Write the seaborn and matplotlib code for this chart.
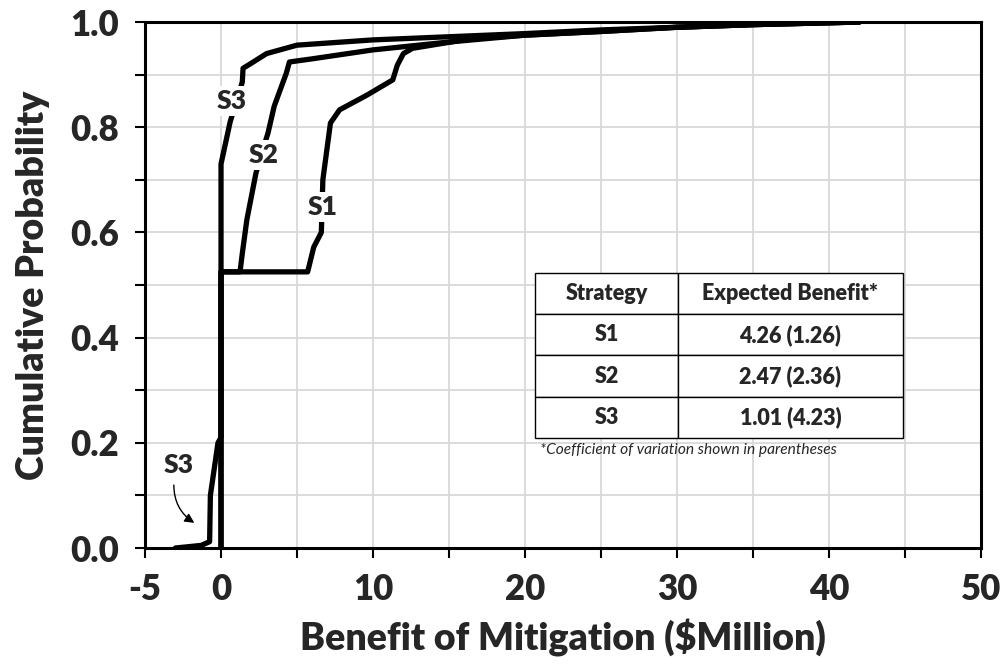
import numpy as np
import pandas as pd
import matplotlib
matplotlib.use("Agg")
import matplotlib.pyplot as plt
import seaborn as sns

# ---- data ----
s1_x = [0, 0, 5.7, 6.1, 6.6, 6.7, 7.2, 7.8, 9.6, 11.3, 11.6, 12.0, 12.6, 16.4, 20, 25, 30, 35, 42]
s1_p = [0, 0.525, 0.525, 0.572, 0.60, 0.70, 0.808, 0.833, 0.861, 0.89, 0.918, 0.94, 0.95, 0.968, 0.975, 0.982, 0.99, 0.995, 1.0]

s2_x = [0, 0, 1.25, 1.4, 1.7, 2.3, 3.1, 3.5, 4.3, 4.5, 6.0, 10, 15, 20, 25, 30, 35, 42]
s2_p = [0, 0.525, 0.525, 0.56, 0.624, 0.713, 0.79, 0.84, 0.903, 0.924, 0.93, 0.947, 0.962, 0.975, 0.982, 0.99, 0.995, 1.0]

s3_x = [-3.0, -1.3, -0.75, -0.7, -0.2, 0, 0, 0.6, 1.4, 1.45, 1.9, 3.0, 5.0, 10, 15, 20, 25, 30, 35, 42]
s3_p = [0.0, 0.005, 0.012, 0.10, 0.20, 0.21, 0.73, 0.81, 0.886, 0.912, 0.92, 0.94, 0.956, 0.966, 0.972, 0.978, 0.985, 0.99, 0.995, 1.0]

strategies = ["S1", "S2", "S3"]
expected = ["4.26 (1.26)", "2.47 (2.36)", "1.01 (4.23)"]
table_header = ["Strategy", "Expected Benefit*"]
footnote = "*Coefficient of variation shown in parentheses"

x_ticks_major = [-5, 0, 10, 20, 30, 40, 50]
y_ticks = [0.0, 0.2, 0.4, 0.6, 0.8, 1.0]

# ---- build long-form data ----
frames = []
for name, xs, ps in [("S1", s1_x, s1_p), ("S2", s2_x, s2_p), ("S3", s3_x, s3_p)]:
    frames.append(pd.DataFrame({"x": xs, "p": ps, "strategy": name, "order": range(len(xs))}))
df = pd.concat(frames, ignore_index=True)

sns.set_theme(style="white")
plt.rcParams['font.family'] = ['Lato', 'DejaVu Sans']
W = 800

fig = plt.figure(figsize=(10.05, 6.67), dpi=100)
ax = fig.add_axes([0.1443, 0.1784, 0.8318, 0.7886])

sns.lineplot(data=df, x="x", y="p", hue="strategy", units="strategy", estimator=None,
             sort=False, palette=["black"] * 3, linewidth=3.8, legend=False, ax=ax, zorder=3)

ax.set_xlim(-5, 50)
ax.set_ylim(0, 1)
ax.set_xticks(np.arange(-5, 51, 5), minor=True)
ax.set_xticks(x_ticks_major)
ax.set_xticklabels([str(v) for v in x_ticks_major])
ax.set_yticks(np.arange(0, 1.01, 0.1), minor=True)
ax.set_yticks(y_ticks)
ax.set_yticklabels([f"{v:.1f}" for v in y_ticks])

ax.grid(True, which="both", color="#d9d9d9", linewidth=1.3, zorder=0)
ax.set_axisbelow(True)
for s in ax.spines.values():
    s.set_color("black")
    s.set_linewidth(2.2)

ax.tick_params(which="both", direction="out", color="black", width=1.5, length=7,
               bottom=True, left=True)
ax.tick_params(which="major", labelsize=25)
ax.tick_params(axis="x", which="major", pad=11)
ax.tick_params(axis="y", which="major", pad=12)
for lab in ax.get_xticklabels() + ax.get_yticklabels():
    lab.set_fontweight(W)

ax.set_xlabel("Benefit of Mitigation ($Million)", fontsize=27, fontweight=W, labelpad=9)
ax.set_ylabel("Cumulative Probability", fontsize=27, fontweight=W, labelpad=14)

# curve labels
bb = dict(boxstyle="square,pad=0.12", fc="white", ec="none")
lab_kw = dict(fontsize=19, fontweight=W, ha="center", va="center", bbox=bb, zorder=5)
ax.text(0.7, 0.85, "S3", **lab_kw)
ax.text(2.8, 0.747, "S2", **lab_kw)
ax.text(6.7, 0.648, "S1", **lab_kw)
ax.text(-2.8, 0.158, "S3", **lab_kw)
ax.annotate("", xy=(-1.6, 0.045), xytext=(-3.1, 0.125),
            arrowprops=dict(arrowstyle="-|>", color="black", lw=1.0,
                            connectionstyle="arc3,rad=0.3", mutation_scale=14), zorder=5)

# table
cells = [[s, e] for s, e in zip(strategies, expected)]
tbl = ax.table(cellText=cells, colLabels=table_header, cellLoc="center",
               colWidths=[0.389, 0.611], bbox=[0.4665, 0.209, 0.440, 0.314], zorder=6)
tbl.auto_set_font_size(False)
for (r, c), cell in tbl.get_celld().items():
    cell.set_facecolor("white")
    cell.set_edgecolor("black")
    cell.set_linewidth(1.0)
    cell.get_text().set_fontsize(15.5)
    cell.get_text().set_fontweight(W)

ax.text(0.4725, 0.186, footnote, transform=ax.transAxes, fontsize=11.2, fontstyle="italic",
        fontweight="normal", ha="left", va="center", zorder=6)

fig.savefig("out.png", dpi=100)
